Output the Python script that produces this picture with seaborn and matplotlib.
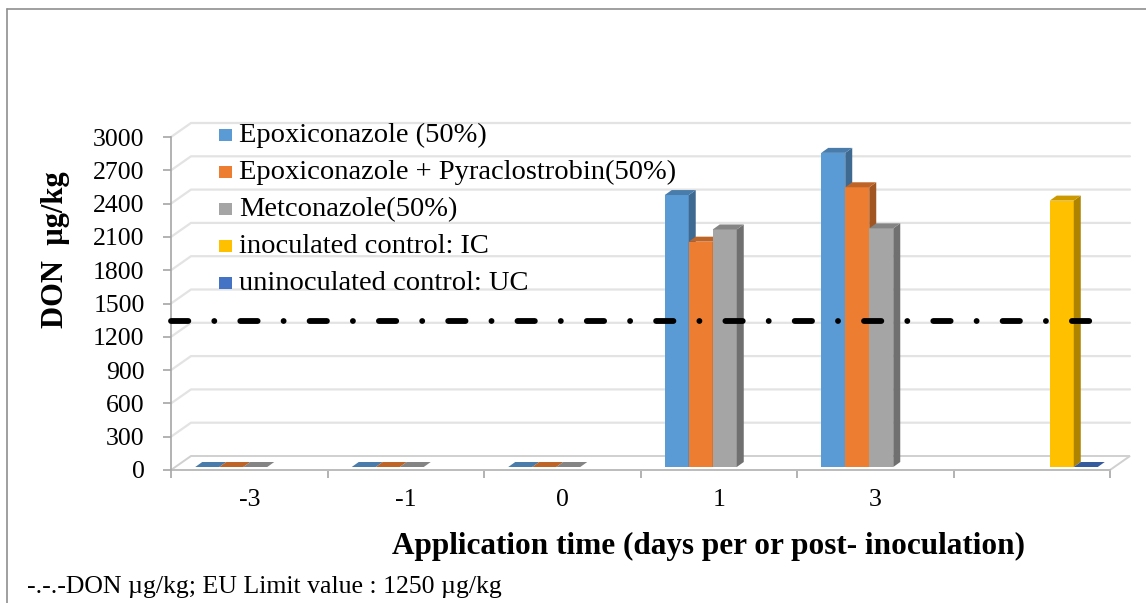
import numpy as np
import pandas as pd
import matplotlib
matplotlib.use("Agg")
import matplotlib.pyplot as plt
import matplotlib.colors as mcolors
from matplotlib.patches import Polygon, Rectangle
from matplotlib.lines import Line2D
from matplotlib.transforms import ScaledTranslation
import seaborn as sns

sns.set_theme(style="white")
plt.rcParams['font.family'] = ['Liberation Serif', 'DejaVu Serif']

# values (DON, µg/kg)
days = ["-3", "-1", "0", "1", "3", ""]
series = ["Epoxiconazole (50%)", "Epoxiconazole + Pyraclostrobin(50%)", "Metconazole(50%)",
          "inoculated control: IC", "uninoculated control: UC"]
epoxiconazole = [0, 0, 0, 2450, 2830, np.nan]
epoxi_pyraclo = [0, 0, 0, 2030, 2520, np.nan]
metconazole = [0, 0, 0, 2140, 2150, np.nan]
inoc_control = [np.nan, np.nan, np.nan, np.nan, np.nan, 2400]
uninoc_control = [np.nan, np.nan, np.nan, np.nan, np.nan, 0]
limit_line = 1340
y_ticks = list(range(0, 3001, 300))
colors = ["#5B9BD5", "#ED7D31", "#A5A5A5", "#FFC000", "#4472C4"]

rows = []
for name, vals in zip(series, [epoxiconazole, epoxi_pyraclo, metconazole, inoc_control, uninoc_control]):
    for d, v in zip(days, vals):
        rows.append({"day": d, "treatment": name, "don": v})
df = pd.DataFrame(rows).dropna()

W, H, DPI = 1146, 603, 100
fig = plt.figure(figsize=(W / DPI, H / DPI), dpi=DPI)
ax_l, ax_r, ax_t, ax_b = 171, 1110, 137, 470
ax = fig.add_axes([ax_l / W, 1 - ax_b / H, (ax_r - ax_l) / W, (ax_b - ax_t) / H])
ax.patch.set_alpha(0)

sns.barplot(data=df, x="day", y="don", hue="treatment", order=days, hue_order=series,
            palette=colors, saturation=1, width=0.767, errorbar=None, legend=False,
            linewidth=0, ax=ax)
ax.set_xlim(-0.5, 5.5)
ax.set_ylim(0, 3000)

# pixel -> data units
ppx = (ax_r - ax_l) / 6
ppy = (ax_b - ax_t) / 3000


def shade(c, f):
    r, g, b = mcolors.to_rgb(c)
    return (r * f, g * f, b * f)


# fake 3d: bars sit a little behind the front plane
shift = ax.transData + ScaledTranslation(6 / DPI, 3 / DPI, fig.dpi_scale_trans)
bdx, bdy = 7 / ppx, 5 / ppy
bars = sorted(list(ax.patches), key=lambda p: p.get_x())
for i, p in enumerate(bars):
    x0, w, h = p.get_x(), p.get_width(), p.get_height()
    x1 = x0 + w
    base = p.get_facecolor()
    z = 3 + i * 0.1
    p.set_transform(shift)
    p.set_zorder(z)
    p.set_clip_on(False)
    side = Polygon([(x1, 0), (x1 + bdx, bdy), (x1 + bdx, h + bdy), (x1, h)], closed=True,
                   facecolor=shade(base, 0.68), edgecolor="none", transform=shift,
                   zorder=z + 0.01, clip_on=False)
    top = Polygon([(x0, h), (x1, h), (x1 + bdx, h + bdy), (x0 + bdx, h + bdy)], closed=True,
                  facecolor=shade(base, 0.8), edgecolor="none", transform=shift,
                  zorder=z + 0.02, clip_on=False)
    ax.add_patch(side)
    ax.add_patch(top)

# back wall gridlines and floor
wdx, wdy = 20 / ppx, 14 / ppy
for v in y_ticks[1:]:
    ax.plot([-0.5, -0.5 + wdx, 5.5 + wdx], [v, v + wdy, v + wdy], color="#e3e3e3", lw=1.6,
            zorder=0.5, clip_on=False)
floor = Polygon([(-0.5, 0), (5.5, 0), (5.5 + wdx, wdy), (-0.5 + wdx, wdy)], closed=True,
                facecolor="white", edgecolor="#d0d0d0", lw=1.4, zorder=0.6, clip_on=False)
ax.add_patch(floor)

# EU limit line
ax.plot([-0.5, 5.4], [limit_line, limit_line], color="black", lw=4.2,
        linestyle=(0, (2.97, 4.45, 0.01, 4.45)), dash_capstyle="round", zorder=10, clip_on=False)

ax.set_xlim(-0.5, 5.5)
ax.set_ylim(0, 3000)

# axes look
for s in ["top", "right"]:
    ax.spines[s].set_visible(False)
ax.spines["left"].set_color("#a6a6a6")
ax.spines["left"].set_linewidth(1.2)
ax.spines["bottom"].set_color("#bdbdbd")
ax.spines["bottom"].set_linewidth(1.4)
ax.spines["bottom"].set_zorder(0.7)

ax.set_yticks(y_ticks)
ax.tick_params(axis="y", direction="out", left=True, length=6, width=1.2, color="#a6a6a6",
               pad=13, labelsize=18.5, labelcolor="black")
ax.set_xticks(range(len(days)))
ax.set_xticklabels(days)
ax.set_xticks(np.arange(-0.5, len(days), 1), minor=True)
ax.tick_params(axis="x", which="major", length=0, pad=14, labelsize=18.5, labelcolor="black")
ax.tick_params(axis="x", which="minor", bottom=True, direction="out", length=6, width=1.2,
               color="#a6a6a6")

ax.set_xlabel("Application time (days per or post- inoculation)", fontsize=22.5,
              fontweight="bold", color="black")
ax.xaxis.set_label_coords((709 - ax_l) / (ax_r - ax_l), (ax_b - 546) / (ax_b - ax_t))
ax.xaxis.label.set_va("center")
ax.set_ylabel("DON  µg/kg", fontsize=22, fontweight="bold", color="black")
ax.yaxis.set_label_coords((56 - ax_l) / (ax_r - ax_l), (ax_b - 250) / (ax_b - ax_t))
ax.yaxis.label.set_va("center")

# legend, drawn by hand to match the placement
for i, (name, c) in enumerate(zip(series, colors)):
    yc = 134.5 + 37.1 * i
    fig.add_artist(Rectangle((219 / W, 1 - (yc + 6) / H), 13 / W, 12 / H, facecolor=c,
                             edgecolor="none", transform=fig.transFigure, zorder=11))
    fig.text(239 / W, 1 - (yc + 7.5) / H, name, fontsize=20.5, va="baseline", ha="left",
             color="black", zorder=11)

# outer frame
fig.add_artist(Line2D([7 / W, 1], [1 - 9 / H, 1 - 9 / H], color="#8f8f8f", lw=1.2,
                      transform=fig.transFigure))
fig.add_artist(Line2D([7 / W, 7 / W], [0, 1 - 9 / H], color="#8f8f8f", lw=1.2,
                      transform=fig.transFigure))

fig.text(27 / W, 1 - 593 / H, "-.-.-DON µg/kg; EU Limit value : 1250 µg/kg", fontsize=18.5,
         va="baseline", ha="left", color="black")

fig.savefig("out.png", dpi=DPI)
plt.close(fig)
